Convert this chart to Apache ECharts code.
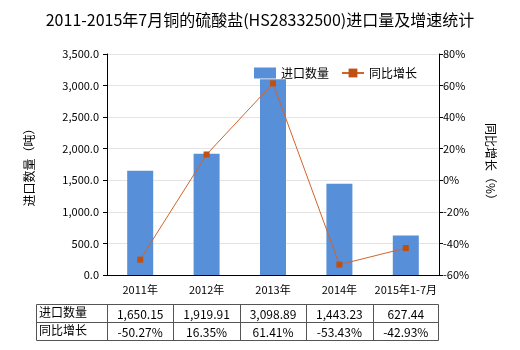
<!DOCTYPE html>
<html><head><meta charset="utf-8">
<script src="https://cdn.jsdelivr.net/npm/echarts@6/dist/echarts.min.js"></script>
<style>html,body{margin:0;padding:0;background:#fff}#c{width:520px;height:350px}</style>
</head><body><div id="c"></div>
<script>
var categories = ['2011年','2012年','2013年','2014年','2015年1-7月'];
var importQty = [1650.15, 1919.91, 3098.89, 1443.23, 627.44];
var growth = [-50.27, 16.35, 61.41, -53.43, -42.93];
var qtyLabels = ['1,650.15','1,919.91','3,098.89','1,443.23','627.44'];
var growthLabels = ['-50.27%','16.35%','61.41%','-53.43%','-42.93%'];
var rowNames = ['进口数量','同比增长'];

var FONT = '"Noto Sans CJK SC", "Microsoft YaHei", sans-serif';
var GL = 107, GR = 439, GT = 54, GB = 275;
var tableLeft = 36, rowTop = 304, rowH = 18;

function fmt(v){return v.toFixed(1).replace(/\B(?=(\d{3})+(?!\d))/g, ',');}

var graphic = [];
var n = categories.length;
var cw = (GR - GL) / n;
var lineStyle = {stroke:'#555', lineWidth:1};
graphic.push({type:'rect', shape:{x:tableLeft+0.5, y:rowTop+0.5, width:GR-tableLeft-1, height:rowH*2}, style:{fill:'none', stroke:'#555', lineWidth:1}});
graphic.push({type:'line', shape:{x1:tableLeft, y1:rowTop+rowH+0.5, x2:GR, y2:rowTop+rowH+0.5}, style:lineStyle});
for (var i=0;i<n;i++){
  var x = Math.round(GL + cw*i)+0.5;
  graphic.push({type:'line', shape:{x1:x, y1:rowTop, x2:x, y2:rowTop+rowH*2}, style:lineStyle});
}
var rows = [qtyLabels, growthLabels];
for (var r=0;r<2;r++){
  graphic.push({type:'text', left:tableLeft+3, top:rowTop+rowH*r+2, style:{text:rowNames[r], font:'12px '+FONT, fill:'#000'}});
  for (var i=0;i<n;i++){
    graphic.push({type:'text', x:GL+cw*(i+0.5), y:rowTop+rowH*r+rowH/2+1, style:{text:rows[r][i], font:'12px '+FONT, fill:'#000', textAlign:'center', textVerticalAlign:'middle'}});
  }
}

var chart = echarts.init(document.getElementById('c'));
chart.setOption({
  animation:false,
  textStyle:{fontFamily:FONT},
  title:{text:'2011-2015年7月铜的硫酸盐(HS28332500)进口量及增速统计', left:'center', top:7,
    textStyle:{fontSize:16, fontWeight:'normal', color:'#000', fontFamily:FONT}},
  legend:{top:62, left:249, itemGap:12, itemWidth:22, itemHeight:11,
    textStyle:{fontSize:12, color:'#000', fontFamily:FONT},
    data:[{name:'进口数量', icon:'rect'},{name:'同比增长'}]},
  grid:{left:GL, right:520-GR, top:GT, bottom:350-GB},
  xAxis:{type:'category', data:categories,
    axisLine:{lineStyle:{color:'#000'}}, axisTick:{show:false},
    axisLabel:{color:'#000', fontSize:11, margin:9, interval:0}},
  yAxis:[
    {type:'value', min:0, max:3500, interval:500, name:'进口数量（吨）', nameLocation:'middle', nameGap:72,
     nameTextStyle:{fontSize:12, color:'#000'},
     axisLine:{show:true, lineStyle:{color:'#000'}}, axisTick:{show:true, length:4, lineStyle:{color:'#000'}},
     axisLabel:{color:'#000', fontSize:11, margin:8, formatter:fmt},
     splitLine:{lineStyle:{color:'#e4e4e4'}}},
    {type:'value', min:-60, max:80, interval:20, name:'同比增长（%）', nameLocation:'middle', nameGap:46, nameRotate:-90,
     nameTextStyle:{fontSize:12, color:'#000'},
     axisLine:{show:true, lineStyle:{color:'#000'}}, axisTick:{show:true, length:4, lineStyle:{color:'#000'}},
     axisLabel:{color:'#000', fontSize:11, margin:4, formatter:'{value}%'},
     splitLine:{show:false}}
  ],
  series:[
    {name:'进口数量', type:'bar', data:importQty, barWidth:26, itemStyle:{color:'#578FD8'}},
    {name:'同比增长', type:'line', yAxisIndex:1, data:growth, symbol:'rect', symbolSize:6,
     lineStyle:{color:'#D2642A', width:1}, itemStyle:{color:'#C0500F'}}
  ],
  graphic:graphic
});
</script></body></html>
